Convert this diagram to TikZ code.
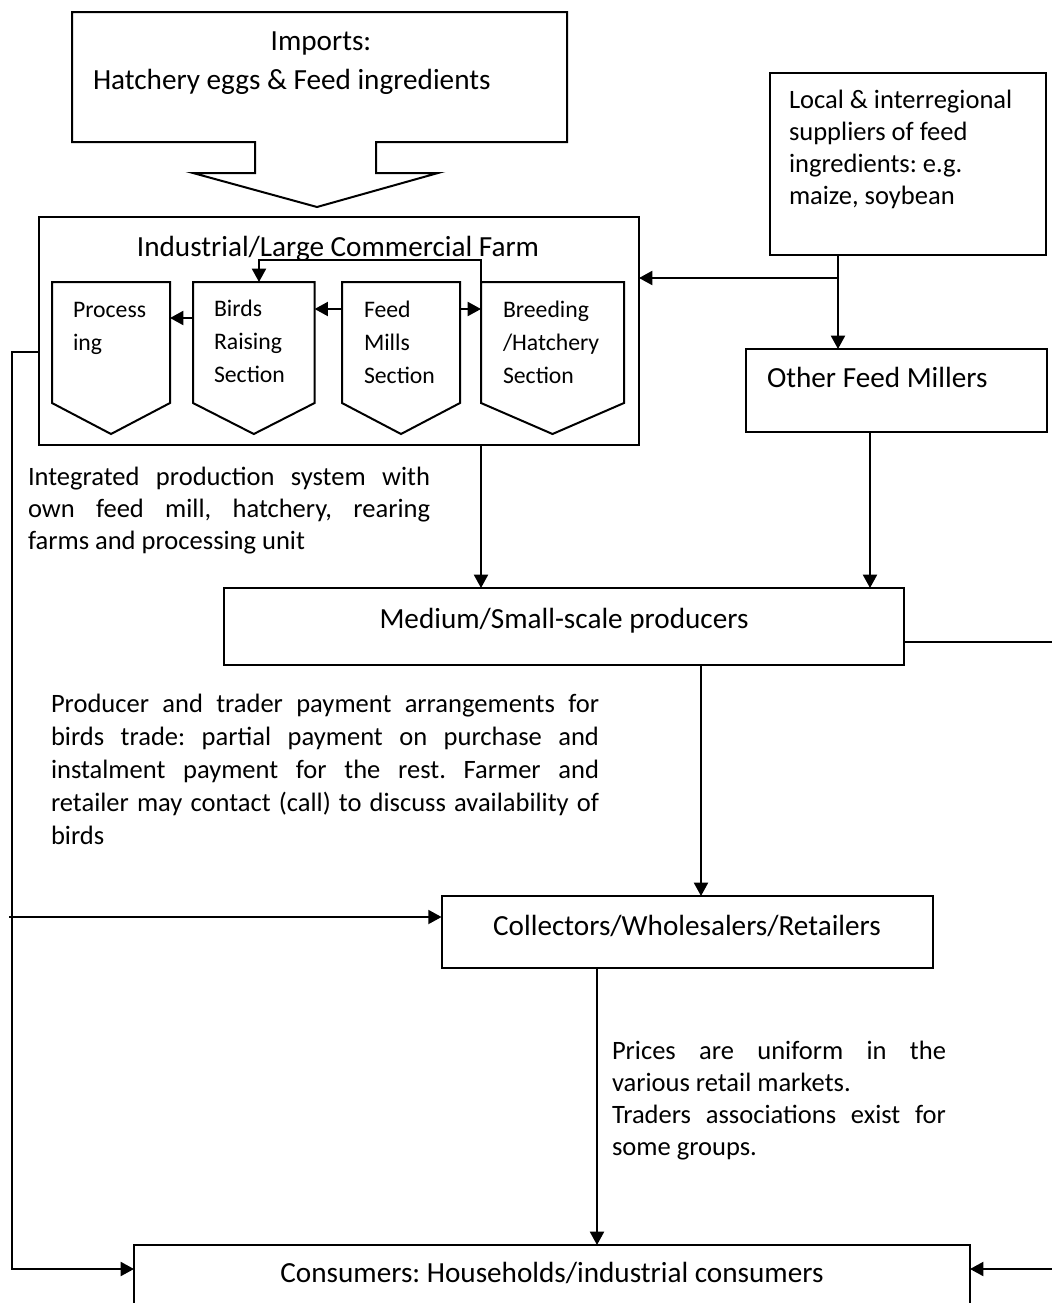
\documentclass[tikz,border=0pt]{standalone}
\usepackage{fontspec}
\setmainfont{Carlito}
\usetikzlibrary{arrows.meta,fit,calc}
\frenchspacing
\newcommand\fbig{\frenchspacing\fontsize{21.9pt}{26pt}\selectfont}
\newcommand\fmed{\frenchspacing\fontsize{19.9pt}{24.2pt}\selectfont}
\newcommand\fmedb{\frenchspacing\fontsize{19.9pt}{24.75pt}\selectfont}
\newcommand\fsml{\frenchspacing\fontsize{17.8pt}{24.75pt}\selectfont}
\newcommand\jline[2]{{\spaceskip=0pt\xspaceskip=0pt\makebox[#1][s]{#2}}}
\begin{document}
\begin{tikzpicture}[x=0.75pt,y=-0.75pt,
  ln/.style={line width=1.5pt, line join=miter},
  box/.style={draw, line width=1.5pt, inner sep=0pt, outer sep=0pt},
  sec/.style={draw=none, inner sep=0pt, outer sep=0pt},
  arr/.style={-{Triangle[length=10pt,width=10.5pt]}, line width=1.5pt},
  txt/.style={inner sep=0pt, outer sep=0pt,
    execute at begin node={\spaceskip=0pt\xspaceskip=0pt}},
]
\useasboundingbox (0,0) rectangle (1052,1303);

% Imports callout
\draw[ln] (72,12) -- (567,12) -- (567,142) -- (376,142) -- (376,173) -- (438,173)
  -- (317,207) -- (193,173) -- (255,173) -- (255,142) -- (72,142) -- cycle;
\node[txt, font=\fbig, anchor=base] (impT) at (321,50) {Imports:};
\node[txt, font=\fbig, anchor=base west] (impT2) at (93,89) {Hatchery eggs \& Feed ingredients};

% Farm
\node[box, fit={(38.5,217) (639,445)}] (farm) {};
\node[txt, font=\fbig, anchor=base] (farmT) at (338,256) {Industrial/Large Commercial Farm};

\node[sec, fit={(52,282) (170,403)}] (proc) {};
\node[sec, fit={(193,282) (314.6,403)}] (birds) {};
\node[sec, fit={(342,282) (460,403)}] (feed) {};
\node[sec, fit={(481,282) (624,403)}] (breed) {};
\foreach \n in {proc,birds,feed,breed}{
  \draw[ln] (\n.north west) -- (\n.north east) -- (\n.south east)
    -- ($(\n.south)+(0,31)$) -- (\n.south west) -- cycle;
}
\node[txt, font=\fsml, anchor=base west, text width=80pt, align=left] (procT) at (73,317) {Process\\ing};
\node[txt, font=\fsml, anchor=base west, text width=80pt, align=left] (birdsT) at (214,316) {Birds\\Raising\\Section};
\node[txt, font=\fsml, anchor=base west, text width=80pt, align=left] (feedT) at (364,317) {Feed\\Mills\\Section};
\node[txt, font=\fsml, anchor=base west, text width=90pt, align=left] (breedT) at (503,317) {Breeding\\/Hatchery\\Section};

\draw[arr] (birds.west |- 0,318) -- (proc.east |- 0,318);
\draw[arr] (feed.west |- 0,309) -- (birds.east |- 0,309);
\draw[arr] (feed.east |- 0,309) -- (breed.west |- 0,309);
\draw[arr] (breed.north west) |- (259,260) -- (birds.north -| 259,0);

% Suppliers
\node[box, fit={(770,73) (1046,255)}] (sup) {};
\node[txt, font=\fmed, anchor=base west, text width=250pt, align=left] (supT) at (789,108)
  {Local \& interregional\\suppliers of feed\\ingredients: e.g.\\maize, soybean};

% Other feed millers
\node[box, fit={(746,349) (1047,432)}] (ofm) {};
\node[txt, font=\fbig, anchor=base west] (ofmT) at (767,387) {Other Feed Millers};

\coordinate (j1) at (838,278);
\draw[arr] (sup.south -| j1) -- (ofm.north -| j1);
\draw[arr] (j1) -- (farm.east |- j1);

% Medium
\node[box, fit={(223.5,588) (904,665)}] (med) {};
\node[txt, font=\fbig, anchor=base] (medT) at (564,628) {Medium/Small-scale producers};
\draw[arr] (farm.south -| 481,0) -- (med.north -| 481,0);
\draw[arr] (ofm.south -| 870,0) -- (med.north -| 870,0);

\node[txt, font=\fmed, anchor=base west, text width=301.5pt, align=left] (intT) at (28,485)
  {\jline{301.5pt}{Integrated production system with}\\
   \jline{301.5pt}{own feed mill, hatchery, rearing}\\
   farms and processing unit};

\node[txt, font=\fmedb, anchor=base west, text width=411pt, align=left] (prodT) at (51,712)
  {\jline{411pt}{Producer and trader payment arrangements for}\\
   \jline{411pt}{birds trade: partial payment on purchase and}\\
   \jline{411pt}{instalment payment for the rest. Farmer and}\\
   \jline{411pt}{retailer may contact (call) to discuss availability of}\\
   birds};

% Collectors
\node[box, fit={(441.6,896) (933,968)}] (coll) {};
\node[txt, font=\fbig, anchor=base] (collT) at (687,935) {Collectors/Wholesalers/Retailers};
\draw[arr] (med.south -| 701,0) -- (coll.north -| 701,0);

\node[txt, font=\fmed, anchor=base west, text width=250.5pt, align=left] (priceT) at (612,1059)
  {\jline{250.5pt}{Prices are uniform in the}\\
   various retail markets.\\
   \jline{250.5pt}{Traders associations exist for}\\
   some groups.};

% Consumers
\node[box, fit={(134,1245) (970,1330)}] (cons) {};
\node[txt, font=\fbig, anchor=base] (consT) at (552,1282) {Consumers: Households/industrial consumers};
\draw[arr] (coll.south -| 597,0) -- (cons.north -| 597,0);

% Left side connectors
\coordinate (l1) at (12,352);
\coordinate (l2) at (12,1269);
\coordinate (l3) at (9,917);
\draw[arr] (farm.west |- l1) -- (l1) -- (l2) -- (cons.west |- l2);
\draw[arr] (l3) -- (coll.west |- l3);

% Right side connectors
\coordinate (r1) at (1056,642);
\coordinate (r2) at (1056,1269);
\draw[ln] (med.east |- r1) -- (r1);
\draw[arr] (r2) -- (cons.east |- r2);
\end{tikzpicture}
\end{document}
